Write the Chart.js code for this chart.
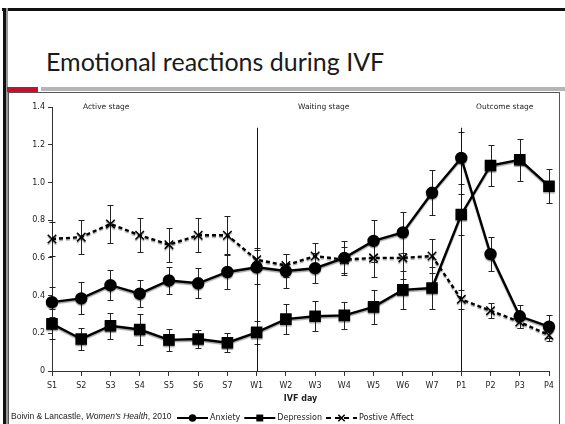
<!DOCTYPE html>
<html>
<head>
<meta charset="utf-8">
<script src="https://cdn.jsdelivr.net/npm/chart.js@4/dist/chart.umd.min.js"></script>
<style>
  body { margin: 0; background: #fff; }
  #slide { position: relative; width: 565px; height: 424px; overflow: hidden; background: #fff; }
  #slide canvas { position: absolute; left: 0; top: 0; }
  .abs { position: absolute; }
  #titulo { left: 46px; top: 46px; font-family: Lato, "Open Sans", sans-serif; font-weight: 400; font-size: 25px; color: #1a1a1a; white-space: nowrap; }
  .etapa { position: absolute; top: 102px; font-family: "DejaVu Sans", sans-serif; font-size: 7.5px; color: #222; white-space: nowrap; }
  #cita { left: 11px; top: 411px; font-family: "Liberation Sans Narrow", "Liberation Sans", sans-serif; font-size: 8.5px; color: #222; white-space: nowrap; }
</style>
</head>
<body>
<div id="slide">
  <div class="abs" style="left:2px;top:8px;width:563px;height:3px;background:#111"></div>
  <div class="abs" style="left:3px;top:8px;width:3px;height:416px;background:#111"></div>
  <div class="abs" style="left:6px;top:8px;width:2px;height:416px;background:#999"></div>
  <div class="abs" style="left:7px;top:87px;width:31px;height:5px;background:#c8102e"></div>
  <div class="abs" style="left:41px;top:87px;width:524px;height:4px;background:#b5b5b5"></div>
  <div class="abs" style="left:8px;top:92px;width:552px;height:340px;border:1px solid #555;box-sizing:border-box"></div>
  <div id="titulo" class="abs">Emotional reactions during IVF</div>
  <canvas id="grafico" width="565" height="424"></canvas>
  <div class="etapa" style="left:83px">Active stage</div>
  <div class="etapa" style="left:298px">Waiting stage</div>
  <div class="etapa" style="left:476px">Outcome stage</div>
  <div id="cita" class="abs">Boivin &amp; Lancastle, <i>Women's Health</i>, 2010</div>
</div>
<script>
// datos
const dias = ["S1", "S2", "S3", "S4", "S5", "S6", "S7", "W1", "W2", "W3", "W4", "W5", "W6", "W7", "P1", "P2", "P3", "P4"];
const ansiedad = [0.365, 0.385, 0.455, 0.41, 0.48, 0.465, 0.525, 0.55, 0.53, 0.545, 0.60, 0.69, 0.735, 0.945, 1.13, 0.62, 0.29, 0.235];
const ansiedadErr = [0.08, 0.085, 0.08, 0.07, 0.07, 0.08, 0.09, 0.09, 0.09, 0.08, 0.09, 0.11, 0.11, 0.12, 0.14, 0.09, 0.06, 0.06];
const depresion = [0.25, 0.17, 0.24, 0.22, 0.165, 0.17, 0.15, 0.205, 0.275, 0.29, 0.295, 0.34, 0.43, 0.44, 0.83, 1.09, 1.12, 0.98];
const depresionErr = [0.08, 0.06, 0.07, 0.08, 0.06, 0.05, 0.05, 0.06, 0.08, 0.08, 0.07, 0.09, 0.10, 0.11, 0.11, 0.11, 0.11, 0.09];
const afecto = [0.70, 0.71, 0.78, 0.72, 0.67, 0.72, 0.72, 0.59, 0.56, 0.61, 0.59, 0.60, 0.60, 0.61, 0.38, 0.32, 0.26, 0.19];
const afectoErr = [0.09, 0.09, 0.10, 0.09, 0.09, 0.09, 0.10, 0.06, 0.06, 0.07, 0.07, 0.10, 0.11, 0.09, 0.05, 0.04, 0.03, 0.03];
const cortesEtapa = ["W1", "P1"];
const topeCorte = 1.29;

// barras de error
const pluginErrores = {
    id: "errores",
    beforeDatasetsDraw(chart) {
        const ctx = chart.ctx;
        const y = chart.scales.y;
        ctx.save();
        ctx.strokeStyle = "#222";
        ctx.lineWidth = 1;
        chart.data.datasets.forEach((ds, i) => {
            const meta = chart.getDatasetMeta(i);
            meta.data.forEach((pt, j) => {
                const e = ds.errores[j];
                const y1 = Math.round(y.getPixelForValue(ds.data[j] + e)) + 0.5;
                const y2 = Math.round(y.getPixelForValue(ds.data[j] - e)) + 0.5;
                const x = Math.round(pt.x) + 0.5;
                ctx.beginPath();
                ctx.moveTo(x, y1); ctx.lineTo(x, y2);
                ctx.moveTo(x - 3, y1); ctx.lineTo(x + 3, y1);
                ctx.moveTo(x - 3, y2); ctx.lineTo(x + 3, y2);
                ctx.stroke();
            });
        });
        // lineas verticales de etapa
        ctx.strokeStyle = "#111";
        cortesEtapa.forEach(c => {
            const x = Math.round(chart.scales.x.getPixelForValue(dias.indexOf(c))) + 0.5;
            ctx.beginPath();
            ctx.moveTo(x, y.getPixelForValue(topeCorte));
            ctx.lineTo(x, y.getPixelForValue(0));
            ctx.stroke();
        });
        ctx.restore();
    },
    beforeDatasetDraw(chart) {
        const ctx = chart.ctx;
        ctx.save();
        ctx.shadowColor = "rgba(0,0,0,0.35)";
        ctx.shadowOffsetY = 1.5;
        ctx.shadowBlur = 1;
    },
    afterDatasetDraw(chart) {
        chart.ctx.restore();
    }
};

// leyenda con linea y marcador
function marcador(ctx, estilo, r, x, y) {
    ctx.beginPath();
    if (estilo === "circle") {
        ctx.arc(x, y, r, 0, Math.PI * 2);
        ctx.fill();
    } else if (estilo === "rect") {
        const s = r * Math.SQRT1_2;
        ctx.fillRect(x - s, y - s, 2 * s, 2 * s);
    } else {
        const s = r * Math.SQRT1_2;
        ctx.moveTo(x - s, y - s); ctx.lineTo(x + s, y + s);
        ctx.moveTo(x + s, y - s); ctx.lineTo(x - s, y + s);
        ctx.stroke();
    }
}

const pluginLeyenda = {
    id: "leyendaLinea",
    afterDraw(chart) {
        const ctx = chart.ctx;
        let x = 177;
        const y = 418;
        ctx.save();
        ctx.font = "8px 'DejaVu Sans'";
        ctx.textBaseline = "middle";
        chart.data.datasets.forEach(ds => {
            ctx.strokeStyle = "#000";
            ctx.fillStyle = "#000";
            ctx.lineWidth = 2;
            ctx.setLineDash(ds.borderDash ? [5, 4] : []);
            ctx.beginPath();
            ctx.moveTo(x, y); ctx.lineTo(x + 31, y);
            ctx.stroke();
            ctx.setLineDash([]);
            ctx.lineWidth = 1.5;
            marcador(ctx, ds.pointStyle, ds.pointRadius * 0.75, x + 15.5, y);
            ctx.fillStyle = "#222";
            ctx.fillText(ds.label, x + 33, y);
            x += 33 + ctx.measureText(ds.label).width + 4;
        });
        ctx.restore();
    }
};

document.addEventListener("DOMContentLoaded", () => {
    const ctx = document.getElementById("grafico").getContext("2d");
    new Chart(ctx, {
        type: "line",
        data: {
            labels: dias,
            datasets: [{
                label: "Anxiety",
                data: ansiedad,
                errores: ansiedadErr,
                borderColor: "#000",
                backgroundColor: "#000",
                borderWidth: 2.4,
                pointStyle: "circle",
                pointRadius: 5,
                tension: 0
            }, {
                label: "Depression",
                data: depresion,
                errores: depresionErr,
                borderColor: "#000",
                backgroundColor: "#000",
                borderWidth: 2.4,
                pointStyle: "rect",
                pointRadius: 6.5,
                tension: 0
            }, {
                label: "Postive Affect",
                data: afecto,
                errores: afectoErr,
                borderColor: "#000",
                backgroundColor: "#000",
                borderWidth: 2.4,
                borderDash: [4, 3],
                pointStyle: "crossRot",
                pointRadius: 6,
                pointBorderWidth: 1.5,
                tension: 0
            }]
        },
        options: {
            responsive: false,
            animation: false,
            devicePixelRatio: 1,
            layout: { padding: { top: 107, left: 0, right: 16, bottom: 20 } },
            plugins: {
                legend: { display: false },
                tooltip: { enabled: false }
            },
            scales: {
                x: {
                    offset: false,
                    grid: { drawOnChartArea: false, color: "#333", tickLength: 5 },
                    border: { color: "#333" },
                    ticks: { color: "#222", font: { family: "DejaVu Sans", size: 8 }, padding: 5, maxRotation: 0, autoSkip: false },
                    title: { display: true, text: "IVF day", color: "#222", font: { family: "DejaVu Sans", size: 8, weight: "bold" }, padding: { top: 3, bottom: 0 } },
                    afterFit: (scale) => { scale.height = 33; }
                },
                y: {
                    min: 0,
                    max: 1.4,
                    grid: { drawOnChartArea: false, color: "#333", tickLength: 4 },
                    border: { color: "#333" },
                    ticks: { stepSize: 0.2, color: "#222", font: { family: "DejaVu Sans", size: 8 }, padding: 3 },
                    afterFit: (scale) => { scale.width = 52; }
                }
            }
        },
        plugins: [pluginErrores, pluginLeyenda]
    });
});
</script>
</body>
</html>
